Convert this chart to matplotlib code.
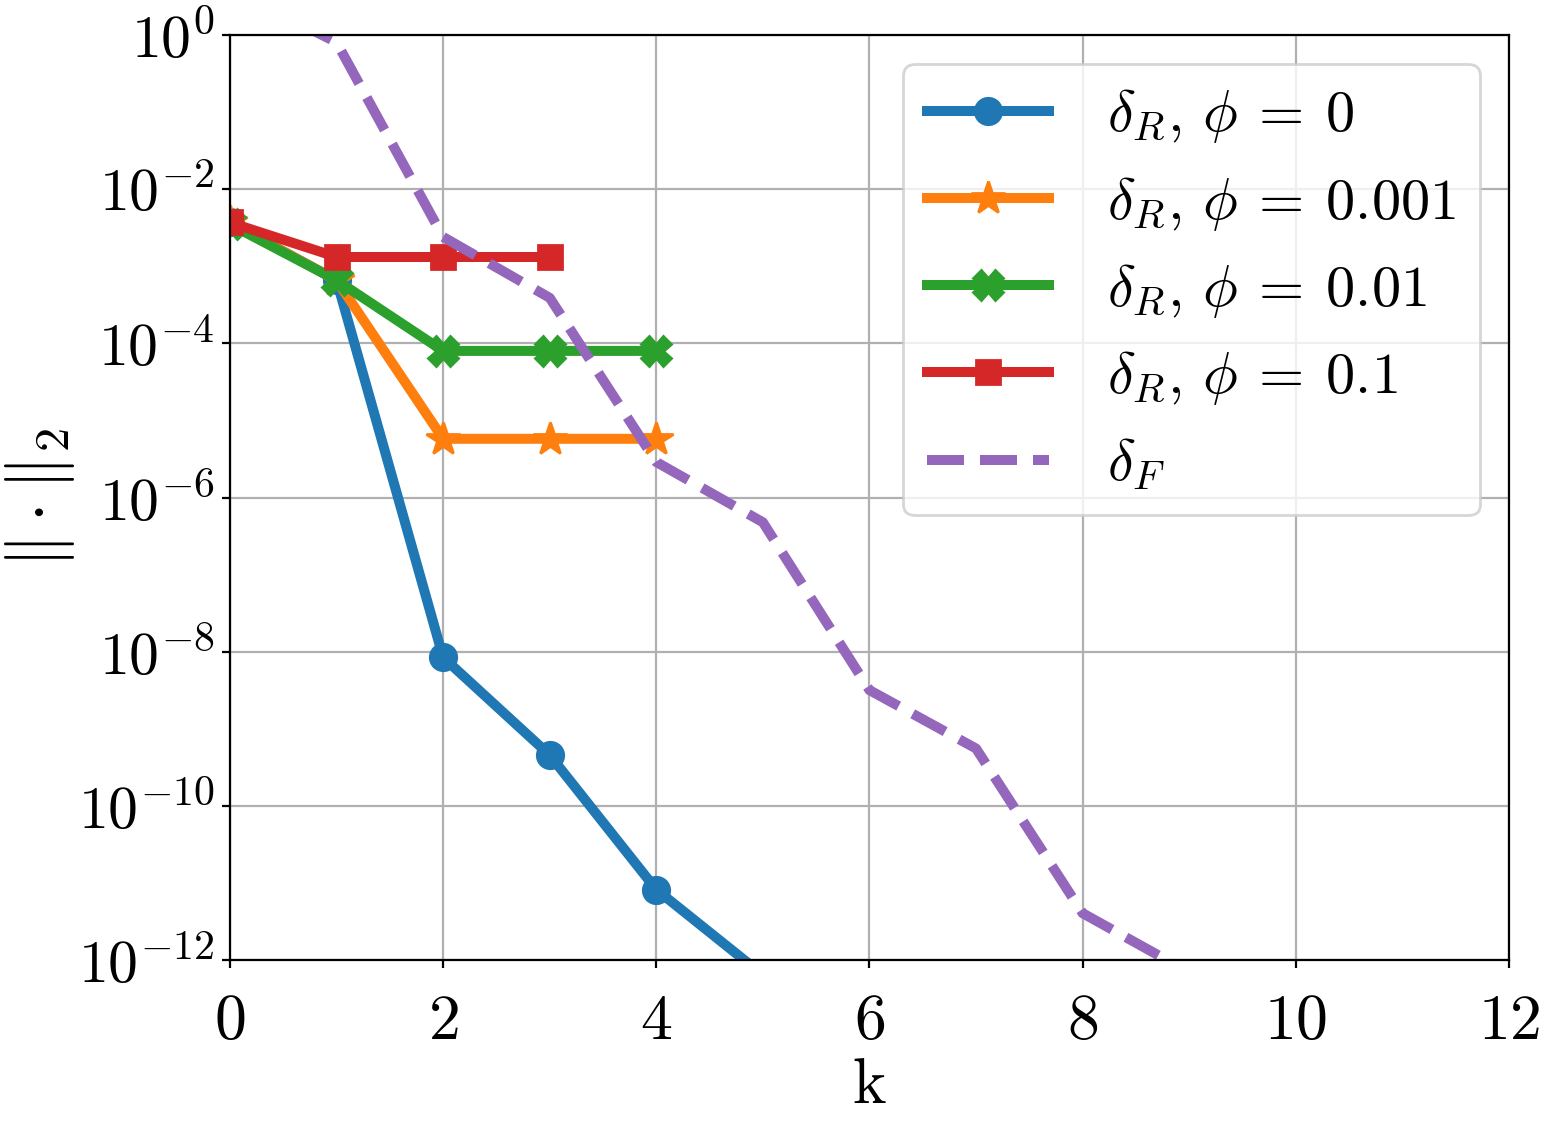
import numpy as np
import matplotlib
matplotlib.use("Agg")
import matplotlib.pyplot as plt
from matplotlib.ticker import LogLocator, NullLocator

plt.rcParams['mathtext.fontset'] = 'cm'
plt.rcParams['font.family'] = 'serif'
plt.rcParams['font.serif'] = ['cmr10']
plt.rcParams['axes.formatter.use_mathtext'] = True

# iterations
k_r0 = [0, 1, 2, 3, 4, 5]
k_r1 = [0, 1, 2, 3, 4]
k_r2 = [0, 1, 2, 3, 4]
k_r3 = [0, 1, 2, 3]
k_f = [0, 1, 2, 3, 4, 5, 6, 7, 8, 9]

# residual norms
res_phi0 = [3.7e-3, 6.6e-4, 8.5e-9, 4.6e-10, 8.3e-12, 6.5e-13]
res_phi001 = [3.7e-3, 6.6e-4, 5.8e-6, 5.8e-6, 5.8e-6]
res_phi01 = [3.5e-3, 6.6e-4, 8.0e-5, 8.0e-5, 8.0e-5]
res_phi1 = [3.7e-3, 1.32e-3, 1.32e-3, 1.32e-3]
res_f = [4.0, 0.8, 2.4e-3, 3.9e-4, 2.9e-6, 4.8e-7, 3.2e-9, 5.6e-10, 4.1e-12, 7e-13]

fig = plt.figure(figsize=(7.77, 5.63), dpi=200)
ax = fig.add_axes([0.148, 0.147, 0.823, 0.822])

lw = 3.6
ms = 9.5
ax.semilogy(k_r0, res_phi0, '-o', color='#1f77b4', lw=lw, ms=ms, label=r'$\delta_R,\,\phi\:=\:0$')
ax.semilogy(k_r1, res_phi001, '-*', color='#ff7f0e', lw=lw, ms=ms + 3, label=r'$\delta_R,\,\phi\:=\:0.001$')
ax.semilogy(k_r2, res_phi01, '-X', color='#2ca02c', lw=lw, ms=ms + 1, label=r'$\delta_R,\,\phi\:=\:0.01$')
ax.semilogy(k_r3, res_phi1, '-s', color='#d62728', lw=lw, ms=ms - 1, label=r'$\delta_R,\,\phi\:=\:0.1$')
ax.semilogy(k_f, res_f, '--', color='#9467bd', lw=lw, label=r'$\delta_F$')

ax.set_xlim(0, 12)
ax.set_ylim(1e-12, 1e0)
ax.set_xticks([0, 2, 4, 6, 8, 10, 12])
ax.yaxis.set_major_locator(LogLocator(base=10, subs=[1.0], numticks=20))
ax.set_yticks([10.0**p for p in range(-12, 1, 2)])
ax.yaxis.set_minor_locator(NullLocator())
ax.tick_params(length=3)
ax.tick_params(axis='x', labelsize=23, pad=9)
ax.tick_params(axis='y', labelsize=21.5, pad=2.5)
ax.grid(True, color='#b0b0b0', lw=0.8)

ax.set_xlabel('k', fontsize=23)
ax.xaxis.set_label_coords(0.5, -0.105)
ax.set_ylabel(r'$\|\cdot\|_2$', fontsize=25)
ax.yaxis.set_label_coords(-0.12, 0.5)

ax.legend(loc='upper right', fontsize=21, handlelength=2.1, handletextpad=1.0,
          labelspacing=0.5, framealpha=0.8)

fig.savefig('out.png', dpi=200)
